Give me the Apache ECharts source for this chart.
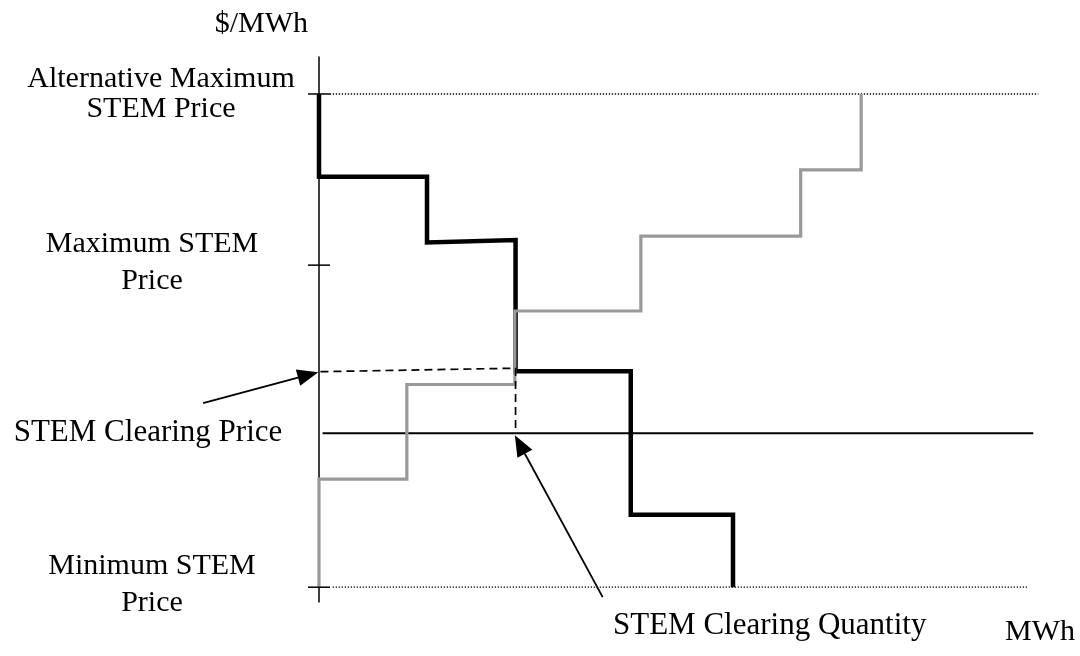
<!DOCTYPE html>
<html>
<head>
<meta charset="utf-8">
<title>STEM clearing</title>
<script src="https://cdn.jsdelivr.net/npm/echarts@6/dist/echarts.min.js"></script>
<style>
  html, body { margin: 0; padding: 0; background: #fff; }
  #main { width: 1080px; height: 656px; }
</style>
</head>
<body>
<div id="main"></div>
<script>
// quantity (MWh) and price ($/MWh) in arbitrary chart units
var demandQty   = [0, 0, 15.0, 15.0, 27.3, 27.3, 43.3, 43.3, 57.5, 57.5];
var demandPrice = [100, 83.2, 83.2, 69.9, 70.4, 43.8, 43.8, 14.7, 14.7, 0];
var supplyQty   = [0, 0, 12.2, 12.2, 27.2, 27.2, 44.7, 44.7, 66.9, 66.9, 75.3, 75.3];
var supplyPrice = [0, 21.9, 21.9, 41.1, 41.1, 56.0, 56.0, 71.2, 71.2, 84.6, 84.6, 100];

var altMaxPrice = 100;
var maxPrice = 65.3;
var minPrice = 0;
var refPrice = 31.2;          // solid horizontal line
var clearingQty = 27.3;
var clearingPriceL = 43.7;    // dashed line, left end
var clearingPriceR = 44.4;    // dashed line, right end

var tickPrices = [minPrice, maxPrice, altMaxPrice];
var labelPrices = [altMaxPrice, maxPrice, refPrice, minPrice];
var labelTexts = ['Alternative Maximum\nSTEM Price', 'Maximum STEM\nPrice', 'STEM Clearing Price', 'Minimum STEM\nPrice'];

// arrows: [tailQty, tailPrice, tipQty, tipPrice]
var arrowPrice = [-16.1, 37.3, -0.1, 43.6];
var arrowQty = [39.4, -2.0, 27.2, 30.8];

function pairs(xs, ys) {
    var out = [];
    for (var i = 0; i < xs.length; i++) out.push([xs[i], ys[i]]);
    return out;
}

var font = 'Liberation Serif';

var option = {
    animation: false,
    backgroundColor: '#fff',
    textStyle: { fontFamily: font, color: '#000' },
    grid: { left: 319, top: 57, width: 720, bottom: 54 },
    xAxis: {
        type: 'value',
        min: 0,
        max: 100,
        axisLine: { show: false },
        axisTick: { show: false },
        axisLabel: { show: false },
        splitLine: { show: false },
        name: 'MWh',
        nameLocation: 'end',
        nameGap: 36,
        nameTextStyle: { fontFamily: font, fontSize: 30, color: '#000', align: 'right', verticalAlign: 'top', padding: [30, 0, 0, 0] }
    },
    yAxis: {
        type: 'value',
        min: -3,
        max: 107.5,
        axisLine: { show: true, lineStyle: { color: '#000', width: 1.5 } },
        axisTick: { show: false },
        splitLine: { show: false },
        axisLabel: {
            customValues: labelPrices,
            margin: 167,
            align: 'center',
            formatter: function (v) {
                var i = labelPrices.indexOf(v);
                var lines = labelTexts[i].split('\n');
                var st = i === 0 ? 'a' : (i === 2 ? 'c' : 'b');
                return lines.map(function (l) { return '{' + st + '|' + l + '}'; }).join('\n');
            },
            rich: {
                a: { fontFamily: font, fontSize: 30, color: '#000', lineHeight: 30, padding: [0, 0, 0, 18] },
                b: { fontFamily: font, fontSize: 30, color: '#000', lineHeight: 37, padding: [0, 0, 5, 0] },
                c: { fontFamily: font, fontSize: 31, color: '#000', lineHeight: 30, padding: [0, 8, 0, 0] }
            }
        },
        name: '$/MWh',
        nameLocation: 'end',
        nameGap: 18,
        nameTextStyle: { fontFamily: font, fontSize: 30, color: '#000', align: 'right', padding: [0, 11, 0, 0] }
    },
    graphic: [
        {
            type: 'text',
            left: 613,
            top: 610,
            style: { text: 'STEM Clearing Quantity', font: '31px "Liberation Serif"', fill: '#000' }
        }
    ],
    series: [
        {
            // dotted Alternative Maximum price line
            type: 'line',
            symbol: 'none',
            data: [[1.5, altMaxPrice], [99.9, altMaxPrice]],
            lineStyle: { color: '#000', width: 1.3, type: [1.3, 1.7] },
            z: 1
        },
        {
            // dotted Minimum price line
            type: 'line',
            symbol: 'none',
            data: [[1.9, minPrice], [98.5, minPrice]],
            lineStyle: { color: '#000', width: 1.3, type: [1.3, 1.7] },
            z: 1
        },
        {
            type: 'line',
            symbol: 'none',
            data: [[0.5, refPrice], [99.2, refPrice]],
            lineStyle: { color: '#000', width: 2 },
            z: 1
        },
        {
            // demand curve
            type: 'line',
            symbol: 'none',
            data: pairs(demandQty, demandPrice),
            lineStyle: { color: '#000', width: 4.5, join: 'miter' },
            clip: false,
            z: 2
        },
        {
            // supply curve
            type: 'line',
            symbol: 'none',
            data: pairs(supplyQty, supplyPrice),
            lineStyle: { color: '#999', width: 3.2, join: 'miter' },
            clip: false,
            z: 3
        },
        {
            // clearing dashed lines
            type: 'line',
            symbol: 'none',
            data: [[0.2, clearingPriceL], [clearingQty, clearingPriceR], [clearingQty, refPrice]],
            lineStyle: { color: '#000', width: 1.7, type: [8, 5] },
            clip: false,
            z: 4
        },
        {
            // annotation arrows
            type: 'custom',
            clip: false,
            z: 5,
            data: [arrowPrice, arrowQty],
            renderItem: function (params, api) {
                var a = api.coord([api.value(0), api.value(1)]);
                var b = api.coord([api.value(2), api.value(3)]);
                var dx = b[0] - a[0], dy = b[1] - a[1];
                var len = Math.sqrt(dx * dx + dy * dy);
                var ux = dx / len, uy = dy / len;
                var hl = 21, hw = 8.5;
                var bx = b[0] - ux * hl, by = b[1] - uy * hl;
                return {
                    type: 'group',
                    children: [
                        {
                            type: 'line',
                            shape: { x1: a[0], y1: a[1], x2: bx, y2: by },
                            style: { stroke: '#000', lineWidth: 1.8 }
                        },
                        {
                            type: 'polygon',
                            shape: { points: [[b[0], b[1]], [bx - uy * hw, by + ux * hw], [bx + uy * hw, by - ux * hw]] },
                            style: { fill: '#000' }
                        }
                    ]
                };
            }
        },
        {
            // ticks crossing the price axis
            type: 'custom',
            clip: false,
            z: 5,
            data: tickPrices.map(function (p) { return [0, p]; }),
            renderItem: function (params, api) {
                var c = api.coord([0, api.value(1)]);
                return {
                    type: 'line',
                    shape: { x1: c[0] - 11, y1: c[1], x2: c[0] + 11, y2: c[1] },
                    style: { stroke: '#000', lineWidth: 1.5 }
                };
            }
        }
    ]
};

var myChart = echarts.init(document.getElementById('main'));
myChart.setOption(option);
</script>
</body>
</html>
